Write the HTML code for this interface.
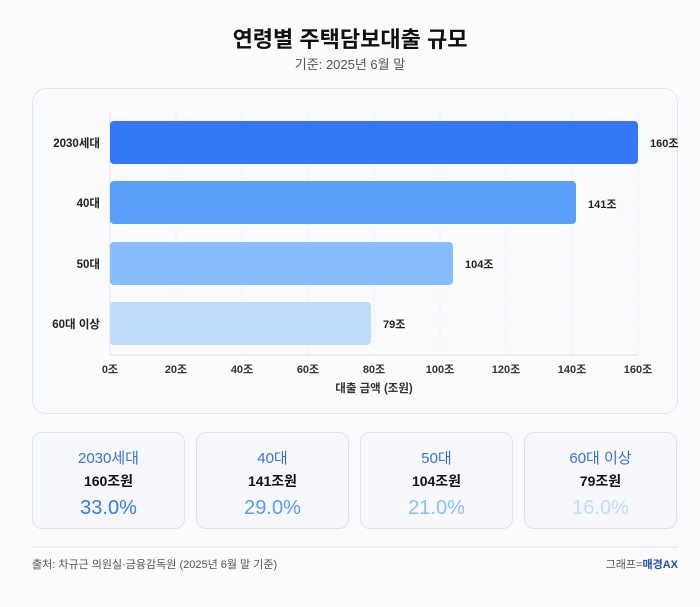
<!DOCTYPE html>
<html><head><meta charset="utf-8"><style>
*{margin:0;padding:0;box-sizing:border-box}
body{width:700px;height:607px;background:#fbfbfd;font-family:"Liberation Sans","Noto Sans CJK KR",sans-serif;position:relative;overflow:hidden}
.abs{position:absolute}
.t{left:0;width:700px;text-align:center}
.card{position:absolute;top:432px;width:153px;height:97px;border:1px solid #dde4ef;border-radius:10px;background:#f6f8fc;text-align:center}
.card .a{position:absolute;top:14px;width:100%;font-size:15px;color:#3a6fd8}
.card .b{position:absolute;top:38px;width:100%;font-size:14px;color:#111;font-weight:bold}
.card .c{position:absolute;top:64px;width:100%;font-size:20px;font-weight:500}
</style></head><body>
<div class="abs t" style="top:22px;font-size:22px;font-weight:bold;color:#111">연령별 주택담보대출 규모</div>
<div class="abs t" style="top:54px;font-size:13px;color:#555">기준: 2025년 6월 말</div>
<div class="abs" style="left:32px;top:88px;width:646px;height:326px;border:1px solid #e3e7ee;border-radius:14px;background:#fafbfd"></div>
<svg class="abs" style="left:0;top:0" width="700" height="607">
<g stroke="#eceef2" stroke-dasharray="3,3">
<line x1="176" y1="112" x2="176" y2="355"/><line x1="242" y1="112" x2="242" y2="355"/><line x1="308" y1="112" x2="308" y2="355"/><line x1="374" y1="112" x2="374" y2="355"/><line x1="440" y1="112" x2="440" y2="355"/><line x1="506" y1="112" x2="506" y2="355"/><line x1="572" y1="112" x2="572" y2="355"/><line x1="638" y1="112" x2="638" y2="355"/>
</g>
<line x1="110" y1="112" x2="110" y2="355" stroke="#dde1e7"/>
<line x1="110" y1="355" x2="638" y2="355" stroke="#dde1e7"/>
<rect x="110" y="121" width="528" height="43" rx="4" fill="#3478f6"/>
<rect x="110" y="181" width="466" height="43" rx="4" fill="#5aa0fb"/>
<rect x="110" y="242" width="343" height="43" rx="4" fill="#87bcfd"/>
<rect x="110" y="302" width="261" height="43" rx="4" fill="#c0dcfd"/>
<g font-size="11.5" font-weight="bold" fill="#222" text-anchor="end">
<text x="100" y="147">2030세대</text><text x="100" y="207">40대</text><text x="100" y="268">50대</text><text x="100" y="328">60대 이상</text></g>
<g font-size="11" font-weight="bold" fill="#222">
<text x="650" y="147">160조</text><text x="588" y="208">141조</text><text x="465" y="268">104조</text><text x="383" y="328">79조</text></g>
<g font-size="11" font-weight="bold" fill="#333" text-anchor="middle">
<text x="110" y="373">0조</text><text x="176" y="373">20조</text><text x="242" y="373">40조</text><text x="308" y="373">60조</text><text x="374" y="373">80조</text><text x="440" y="373">100조</text><text x="506" y="373">120조</text><text x="572" y="373">140조</text><text x="638" y="373">160조</text>
<text x="374" y="392" font-size="11.5">대출 금액 (조원)</text></g>
<line x1="32" y1="547" x2="678" y2="547" stroke="#e3e6eb"/>
</svg>
<div class="card" style="left:32px"><div class="a">2030세대</div><div class="b">160조원</div><div class="c" style="color:#3478f6">33.0%</div></div>
<div class="card" style="left:196px"><div class="a">40대</div><div class="b">141조원</div><div class="c" style="color:#5a9bf9">29.0%</div></div>
<div class="card" style="left:360px"><div class="a">50대</div><div class="b">104조원</div><div class="c" style="color:#8cbcfb">21.0%</div></div>
<div class="card" style="left:524px"><div class="a">60대 이상</div><div class="b">79조원</div><div class="c" style="color:#c3dcfd">16.0%</div></div>
<div class="abs" style="left:32px;top:556px;font-size:11px;color:#555">출처: 차규근 의원실·금융감독원 (2025년 6월 말 기준)</div>
<div class="abs" style="right:22px;top:556px;font-size:11px;color:#555">그래프=<b style="color:#1f4fa8">매경AX</b></div>
</body></html>
